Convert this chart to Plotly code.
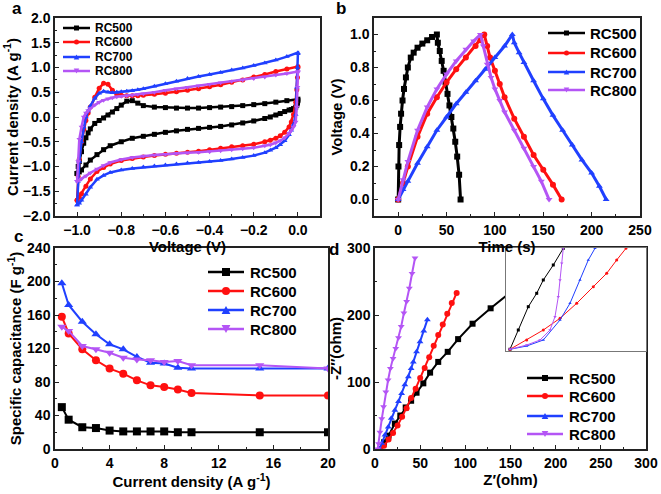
import plotly.graph_objects as go

W, H = 661, 494

# ---------------- data ----------------
series = ["RC500", "RC600", "RC700", "RC800"]
colors = ["#000000", "#ff1010", "#2040ff", "#b455f5"]
symbols = ["square", "circle", "triangle-up", "triangle-down"]

# (a) cyclic voltammetry: anodic (up) and cathodic (down) branches
cv_v_up = [-1.0, -0.995, -0.99, -0.98, -0.97, -0.96, -0.95, -0.94, -0.92, -0.9, -0.88, -0.86, -0.84,
           -0.82, -0.8, -0.775, -0.75, -0.725, -0.7, -0.65, -0.6, -0.55, -0.5, -0.45, -0.4, -0.35,
           -0.3, -0.25, -0.2, -0.15, -0.1, -0.05, 0.0]
cv_v_down = [0.0, -0.002, -0.005, -0.01, -0.02, -0.03, -0.04, -0.06, -0.08, -0.1, -0.125, -0.15,
             -0.2, -0.25, -0.3, -0.35, -0.4, -0.45, -0.5, -0.55, -0.6, -0.65, -0.7, -0.75, -0.8,
             -0.85, -0.88, -0.91, -0.94, -0.96, -0.98, -0.99, -1.0]
cv_rc500_up = [-1.14, -1.0, -0.9, -0.7, -0.53, -0.42, -0.32, -0.24, -0.13, -0.07, -0.02, 0.04, 0.10,
               0.17, 0.24, 0.32, 0.33, 0.28, 0.23, 0.20, 0.19, 0.18, 0.18, 0.18, 0.19, 0.20, 0.21,
               0.23, 0.25, 0.27, 0.30, 0.33, 0.36]
cv_rc500_down = [0.33, 0.28, 0.24, 0.20, 0.17, 0.15, 0.14, 0.11, 0.07, 0.04, 0.0, -0.03, -0.08, -0.12,
                 -0.16, -0.19, -0.21, -0.23, -0.25, -0.28, -0.31, -0.35, -0.39, -0.43, -0.50, -0.58,
                 -0.66, -0.76, -0.87, -0.97, -1.07, -1.11, -1.14]
cv_rc600_up = [-1.68, -1.2, -0.85, -0.5, -0.25, -0.07, 0.08, 0.2, 0.4, 0.58, 0.68, 0.66, 0.54, 0.46,
               0.44, 0.43, 0.43, 0.43, 0.44, 0.46, 0.48, 0.51, 0.54, 0.57, 0.61, 0.65, 0.70, 0.75,
               0.81, 0.86, 0.92, 0.97, 1.02]
cv_rc600_down = [1.0, 0.8, 0.55, 0.3, 0.05, -0.1, -0.2, -0.31, -0.38, -0.43, -0.47, -0.5, -0.55, -0.58,
                 -0.6, -0.63, -0.66, -0.69, -0.71, -0.73, -0.75, -0.78, -0.81, -0.84, -0.88, -0.95,
                 -1.02, -1.1, -1.25, -1.4, -1.55, -1.62, -1.68]
cv_rc700_up = [-1.78, -1.3, -0.9, -0.5, -0.2, 0.0, 0.12, 0.22, 0.38, 0.48, 0.52, 0.50, 0.49, 0.50,
               0.51, 0.52, 0.53, 0.55, 0.57, 0.62, 0.67, 0.72, 0.78, 0.82, 0.86, 0.90, 0.95, 0.99,
               1.04, 1.09, 1.15, 1.22, 1.30]
cv_rc700_down = [1.28, 1.0, 0.6, 0.05, -0.15, -0.27, -0.36, -0.48, -0.56, -0.62, -0.67, -0.72, -0.78,
                 -0.82, -0.85, -0.88, -0.90, -0.92, -0.93, -0.95, -0.97, -0.99, -1.01, -1.04, -1.07,
                 -1.12, -1.18, -1.26, -1.42, -1.56, -1.68, -1.74, -1.78]
cv_rc800_up = [-1.3, -0.9, -0.45, -0.2, 0.0, 0.08, 0.13, 0.17, 0.24, 0.30, 0.34, 0.37, 0.39, 0.41,
               0.42, 0.43, 0.44, 0.46, 0.47, 0.50, 0.54, 0.57, 0.60, 0.63, 0.66, 0.69, 0.72, 0.75,
               0.78, 0.81, 0.85, 0.88, 0.92]
cv_rc800_down = [0.9, 0.6, 0.2, -0.1, -0.2, -0.27, -0.33, -0.42, -0.48, -0.52, -0.56, -0.58, -0.62,
                 -0.64, -0.66, -0.68, -0.70, -0.71, -0.72, -0.73, -0.75, -0.77, -0.79, -0.82, -0.86,
                 -0.92, -0.98, -1.05, -1.13, -1.19, -1.25, -1.28, -1.30]

# (b) galvanostatic charge-discharge
gcd_rc500_t = [0, 0.3, 1, 2, 3, 4.5, 6, 8, 10, 13, 16, 20, 25, 30, 35, 40, 41, 43, 45, 47, 49, 51,
               53, 55, 57, 59, 61, 63, 64.5]
gcd_rc500_v = [0, 0.2, 0.33, 0.44, 0.52, 0.6, 0.67, 0.74, 0.8, 0.86, 0.89, 0.92, 0.945, 0.965, 0.985,
               1.0, 0.95, 0.9, 0.84, 0.78, 0.71, 0.64, 0.57, 0.5, 0.43, 0.35, 0.26, 0.15, 0.0]
gcd_rc600_t = [0, 5, 10, 20, 30, 40, 50, 60, 70, 80, 85, 89, 92, 95, 100, 105, 110, 120, 130, 140,
               150, 160, 169]
gcd_rc600_v = [0, 0.1, 0.2, 0.38, 0.52, 0.62, 0.71, 0.79, 0.86, 0.93, 0.965, 1.0, 0.93, 0.86, 0.78,
               0.7, 0.62, 0.49, 0.38, 0.27, 0.18, 0.09, 0.0]
gcd_rc700_t = [0, 5, 10, 20, 30, 40, 50, 60, 70, 80, 90, 100, 110, 118, 120, 125, 130, 140, 150, 160,
               170, 180, 190, 200, 208, 215]
gcd_rc700_v = [0, 0.06, 0.11, 0.22, 0.32, 0.42, 0.5, 0.58, 0.65, 0.72, 0.79, 0.86, 0.93, 1.0, 0.95,
               0.89, 0.83, 0.72, 0.61, 0.51, 0.42, 0.33, 0.24, 0.16, 0.08, 0.0]
gcd_rc800_t = [0, 5, 10, 20, 30, 40, 50, 60, 70, 78, 85, 88, 92, 96, 100, 105, 110, 120, 130, 140,
               148, 156]
gcd_rc800_v = [0, 0.12, 0.23, 0.42, 0.56, 0.67, 0.76, 0.84, 0.91, 0.96, 1.0, 0.93, 0.82, 0.74, 0.67,
               0.6, 0.53, 0.42, 0.31, 0.2, 0.11, 0.0]

# (c) rate capability
rate_current = [0.5, 1, 2, 3, 4, 5, 6, 7, 8, 9, 10, 15, 20]
cap_rc500 = [50, 35, 26, 25, 22, 21, 21, 21, 21, 20, 20, 20, 20]
cap_rc600 = [158, 138, 119, 106, 96, 90, 82, 76, 74, 71, 67, 64, 64]
cap_rc700 = [198, 172, 152, 137, 125, 119, 110, 103, 102, 97, 96, 96, 96]
cap_rc800 = [146, 141, 123, 119, 115, 109, 107, 106, 104, 105, 100, 100, 96]

# (d) Nyquist plots
eis_rc500_re = [5.5, 10, 15, 22, 28, 34, 40, 46, 53.5, 61, 70, 80.5, 92, 108, 128, 150, 177, 206]
eis_rc500_im = [0, 10, 20, 38, 50, 62, 72, 84, 98, 114, 130, 145, 164, 187, 210, 234, 259, 283]
eis_rc600_re = [6, 10, 15, 20, 25, 30, 35, 40, 45, 50, 55, 60, 65, 70, 75, 80, 85, 90.4]
eis_rc600_im = [0, 5, 14, 24, 35, 48, 61, 76, 90, 106, 121, 137, 154, 170, 186, 202, 218, 233]
eis_rc700_re = [5, 7.4, 11, 14.7, 18, 22, 26, 29.5, 33, 36.9, 40, 42.4, 46, 49.8, 54, 58]
eis_rc700_im = [0, 8.5, 21, 33, 46, 58, 71, 83, 96, 108, 120, 130, 145, 160, 176, 193]
eis_rc800_re = [3, 4, 5.5, 7.5, 9.5, 12, 14.5, 17, 20, 23, 26, 29, 32, 35, 38, 41, 44.3]
eis_rc800_im = [0, 8, 25, 45, 63, 85, 103, 120, 135, 150, 166, 183, 203, 220, 240, 262, 285]

# (d) inset: high-frequency region (magnified)
ins_rc500_re = [0.4, 1.23, 2.23, 3.07, 3.73, 4.73, 5.73]
ins_rc500_im = [0.17, 2.1, 4.43, 5.77, 7.1, 8.6, 10.27]
ins_rc600_re = [0.4, 2.07, 3.73, 5.4, 7.07, 8.73, 10.07, 11.07, 12.0]
ins_rc600_im = [0.17, 1.1, 2.1, 3.27, 4.77, 6.43, 7.77, 9.1, 10.27]
ins_rc700_re = [0.4, 2.07, 3.73, 5.4, 6.4, 7.4, 8.23, 8.9]
ins_rc700_im = [0.17, 0.5, 1.1, 3.1, 4.77, 7.1, 9.1, 10.27]
ins_rc800_re = [0.4, 2.07, 3.4, 4.4, 4.9, 5.23, 5.4, 5.57, 5.73]
ins_rc800_im = [0.17, 0.6, 1.1, 2.1, 3.43, 5.43, 7.1, 8.77, 10.27]

# ---------------- figure ----------------
FAM = "Liberation Sans, Arial, sans-serif"
TICKFONT = dict(family=FAM, size=14, color="black", weight="bold")
TITLEFONT = dict(family=FAM, size=15, color="black", weight="bold")


def px_x(p):
    return p / W


def px_y(p):
    return 1 - p / H


fig = go.Figure()

cv_up = [cv_rc500_up, cv_rc600_up, cv_rc700_up, cv_rc800_up]
cv_dn = [cv_rc500_down, cv_rc600_down, cv_rc700_down, cv_rc800_down]
for i, name in enumerate(series):
    fig.add_trace(go.Scatter(
        x=cv_v_up + cv_v_down, y=cv_up[i] + cv_dn[i], name=name, mode="lines+markers",
        line=dict(color=colors[i], width=2.5), marker=dict(symbol=symbols[i], size=5, color=colors[i]),
        xaxis="x", yaxis="y", showlegend=False))

gcd_t = [gcd_rc500_t, gcd_rc600_t, gcd_rc700_t, gcd_rc800_t]
gcd_v = [gcd_rc500_v, gcd_rc600_v, gcd_rc700_v, gcd_rc800_v]
for i, name in enumerate(series):
    fig.add_trace(go.Scatter(
        x=gcd_t[i], y=gcd_v[i], name=name, mode="lines+markers",
        line=dict(color=colors[i], width=3), marker=dict(symbol=symbols[i], size=6, color=colors[i]),
        xaxis="x2", yaxis="y2", showlegend=False))

caps = [cap_rc500, cap_rc600, cap_rc700, cap_rc800]
for i, name in enumerate(series):
    fig.add_trace(go.Scatter(
        x=rate_current, y=caps[i], name=name, mode="lines+markers",
        line=dict(color=colors[i], width=2), marker=dict(symbol=symbols[i], size=8, color=colors[i]),
        xaxis="x3", yaxis="y3", showlegend=False))

eis_re = [eis_rc500_re, eis_rc600_re, eis_rc700_re, eis_rc800_re]
eis_im = [eis_rc500_im, eis_rc600_im, eis_rc700_im, eis_rc800_im]
for i, name in enumerate(series):
    fig.add_trace(go.Scatter(
        x=eis_re[i], y=eis_im[i], name=name, mode="lines+markers",
        line=dict(color=colors[i], width=2), marker=dict(symbol=symbols[i], size=6, color=colors[i]),
        xaxis="x4", yaxis="y4", showlegend=False))

ins_re = [ins_rc500_re, ins_rc600_re, ins_rc700_re, ins_rc800_re]
ins_im = [ins_rc500_im, ins_rc600_im, ins_rc700_im, ins_rc800_im]
for i, name in enumerate(series):
    fig.add_trace(go.Scatter(
        x=ins_re[i], y=ins_im[i], name=name, mode="lines+markers", showlegend=False,
        line=dict(color=colors[i], width=1), marker=dict(symbol=symbols[i], size=3, color=colors[i]),
        xaxis="x5", yaxis="y5"))


def axis(domain, rng, dtick, mdtick, title, anchor, tick0=0, standoff=4, fmt=None):
    d = dict(domain=domain, range=rng, dtick=dtick, tick0=tick0, anchor=anchor,
             ticks="inside", ticklen=4, tickwidth=1.2, tickcolor="#222",
             minor=dict(dtick=mdtick, ticks="inside", ticklen=2.5, tickwidth=1, tickcolor="#222"),
             showline=True, mirror=True, linecolor="#222", linewidth=1.5,
             showgrid=False, zeroline=False, tickfont=TICKFONT,
             title=dict(text=title, font=TITLEFONT, standoff=standoff))
    if fmt:
        d["tickformat"] = fmt
    return d


dom_a_x = [px_x(55), px_x(320)]
dom_b_x = [px_x(374), px_x(640)]
dom_top_y = [px_y(216), px_y(18)]
dom_c_x = [px_x(55), px_x(328)]
dom_d_x = [px_x(375), px_x(646)]
dom_bot_y = [px_y(449), px_y(248)]

fig.update_layout(
    width=W, height=H, margin=dict(l=0, r=0, t=0, b=0, autoexpand=False),
    paper_bgcolor="white", plot_bgcolor="white", showlegend=False,
    font=dict(family=FAM, size=14, color="black"),
    xaxis=axis(dom_a_x, [-1.1, 0.1], 0.2, 0.1, "Voltage (V)", "y", tick0=-1.0, fmt=".1f"),
    yaxis=axis(dom_top_y, [-2, 2], 0.5, 0.25, "Current density (A g<sup>-1</sup>)", "x", fmt=".1f",
               standoff=1),
    xaxis2=axis(dom_b_x, [-25, 250], 50, 25, "Time (s)", "y2"),
    yaxis2=axis(dom_top_y, [-0.1, 1.1], 0.2, 0.1, "Voltage (V)", "x2", fmt=".1f"),
    xaxis3=axis(dom_c_x, [0, 20], 4, 2, "Current density (A g<sup>-1</sup>)", "y3"),
    yaxis3=axis(dom_bot_y, [0, 240], 40, 20, "Specific capacitance (F g<sup>-1</sup>)", "x3",
                standoff=2),
    xaxis4=axis(dom_d_x, [0, 300], 50, 25, "Z′(ohm)", "y4"),
    yaxis4=axis(dom_bot_y, [0, 300], 100, 50, "-Z″(ohm)", "x4", standoff=2),
    xaxis5=dict(domain=[px_x(506), px_x(646)], range=[0, 14.0], anchor="y5", showline=True,
                mirror=True, linecolor="#777", linewidth=1, showticklabels=False, ticks="",
                showgrid=False, zeroline=False),
    yaxis5=dict(domain=[px_y(351), px_y(248)], range=[0, 10.3], anchor="x5", showline=True,
                mirror=True, linecolor="#777", linewidth=1, showticklabels=False, ticks="",
                showgrid=False, zeroline=False),
)

# ---- legends (one per panel), drawn as key line + marker + text ----
# (row centres y, key line x0, x1, text x, font size, marker size)
legend_specs = [
    ([28, 42, 57, 71], 63, 90, 93, 12, 5),
    ([33, 53, 72, 90], 548, 585, 588, 15, 5),
    ([272, 291, 310, 329], 208, 244, 248, 15, 8),
    ([378, 396, 416, 434], 527, 563, 567, 15, 6),
]
for rows, x0, x1, xt, fs, ms in legend_specs:
    for i, name in enumerate(series):
        yc = rows[i]
        fig.add_shape(type="line", xref="paper", yref="paper", x0=px_x(x0), x1=px_x(x1),
                      y0=px_y(yc), y1=px_y(yc), line=dict(color=colors[i], width=2.5))
        cx = (x0 + x1) / 2
        h = ms / 2
        if symbols[i] == "square":
            fig.add_shape(type="rect", xref="paper", yref="paper", x0=px_x(cx - h), x1=px_x(cx + h),
                          y0=px_y(yc + h), y1=px_y(yc - h), fillcolor=colors[i], line=dict(width=0))
        elif symbols[i] == "circle":
            fig.add_shape(type="circle", xref="paper", yref="paper", x0=px_x(cx - h), x1=px_x(cx + h),
                          y0=px_y(yc + h), y1=px_y(yc - h), fillcolor=colors[i], line=dict(width=0))
        else:
            s = 1 if symbols[i] == "triangle-up" else -1
            pts = [(cx - h * 1.1, yc + s * h), (cx + h * 1.1, yc + s * h), (cx, yc - s * h)]
            path = "M " + " L ".join(f"{px_x(a):.5f},{px_y(b):.5f}" for a, b in pts) + " Z"
            fig.add_shape(type="path", xref="paper", yref="paper", path=path,
                          fillcolor=colors[i], line=dict(width=0))
        fig.add_annotation(text=name, x=px_x(xt), y=px_y(yc), xref="paper", yref="paper",
                           showarrow=False, xanchor="left", yanchor="middle",
                           font=dict(family=FAM, size=fs, color="black", weight="bold"))

letters = [("a", 17, 8), ("b", 341, 8), ("c", 18, 236), ("d", 334, 249)]
for txt, x, y in letters:
    fig.add_annotation(text=txt, x=px_x(x), y=px_y(y), xref="paper", yref="paper", showarrow=False,
                       xanchor="center", yanchor="middle",
                       font=dict(family=FAM, size=17, color="black", weight="bold"))

fig.write_html("out.html", config={"displayModeBar": False},
               post_script="document.body.style.margin='0';document.body.style.padding='0';"
                           "document.documentElement.style.margin='0';")
